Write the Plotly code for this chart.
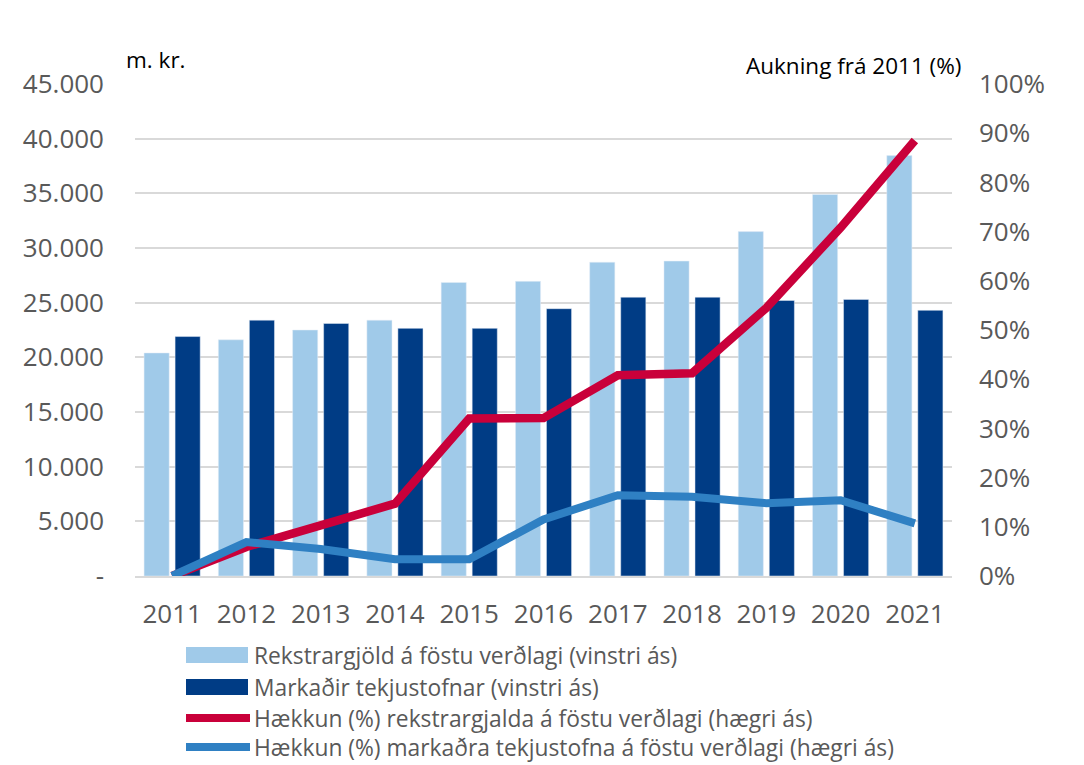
import plotly.graph_objects as go

years = ["2011", "2012", "2013", "2014", "2015", "2016", "2017", "2018", "2019", "2020", "2021"]
rekstrargjold = [20400, 21600, 22500, 23400, 26850, 26950, 28700, 28800, 31500, 34900, 38450]
tekjustofnar = [21900, 23400, 23100, 22650, 22650, 24450, 25500, 25500, 25200, 25300, 24300]
haekkun_rekstur = [0.0, 0.059, 0.103, 0.147, 0.320, 0.321, 0.408, 0.412, 0.545, 0.708, 0.885]
haekkun_tekjur = [0.0, 0.069, 0.055, 0.034, 0.034, 0.115, 0.164, 0.161, 0.148, 0.154, 0.107]

left_ticks = [0, 5000, 10000, 15000, 20000, 25000, 30000, 35000, 40000, 45000]
left_text = ["-", "5.000", "10.000", "15.000", "20.000", "25.000", "30.000", "35.000", "40.000", "45.000"]
right_ticks = [0, 0.1, 0.2, 0.3, 0.4, 0.5, 0.6, 0.7, 0.8, 0.9, 1.0]
right_text = ["0%", "10%", "20%", "30%", "40%", "50%", "60%", "70%", "80%", "90%", "100%"]

names = [
    "Rekstrargjöld á föstu verðlagi (vinstri ás)",
    "Markaðir tekjustofnar (vinstri ás)",
    "Hækkun (%) rekstrargjalda á föstu verðlagi (hægri ás)",
    "Hækkun (%) markaðra tekjustofna á föstu verðlagi (hægri ás)",
]
C_LIGHT = "#A0CAE9"
C_DARK = "#003C85"
C_RED = "#C9003A"
C_BLUE = "#2F80C3"

FONT = "Open Sans"
GRAY = "#595959"
TICK = 26

fig = go.Figure()
fig.add_trace(go.Bar(x=years, y=rekstrargjold, name=names[0], marker_color=C_LIGHT, yaxis="y"))
fig.add_trace(go.Bar(x=years, y=tekjustofnar, name=names[1], marker_color=C_DARK, yaxis="y"))
fig.add_trace(go.Scatter(x=years, y=haekkun_rekstur, name=names[2], mode="lines",
                         line=dict(color=C_RED, width=8.5), yaxis="y2"))
fig.add_trace(go.Scatter(x=years, y=haekkun_tekjur, name=names[3], mode="lines",
                         line=dict(color=C_BLUE, width=8), yaxis="y2"))

OFF = 8  # page offset of the figure
W, H = 1084 - OFF, 765 - OFF
PL, PR, PT, PB = 135, 952, 84, 576  # plot area in screenshot pixels
L = PL - OFF
R = W - (PR - OFF)
T = PT - OFF
B = H - (PB - OFF)

fig.update_layout(
    width=W, height=H,
    margin=dict(l=L, r=R, t=T, b=B),
    plot_bgcolor="white", paper_bgcolor="white",
    barmode="group", bargap=0.165, bargroupgap=0.19,
    showlegend=False,
    font=dict(family=FONT, color=GRAY, size=TICK),
    xaxis=dict(showgrid=False, showline=True, linecolor="#D9D9D9", linewidth=2,
               ticks="", tickfont=dict(size=TICK, color=GRAY, family=FONT), ticklabelstandoff=14),
    yaxis=dict(range=[0, 45000], tickvals=left_ticks, ticktext=left_text,
               showgrid=True, gridcolor="#D9D9D9", gridwidth=2, zeroline=False,
               tickfont=dict(size=TICK, color=GRAY, family=FONT), ticklabelstandoff=30),
    yaxis2=dict(range=[0, 1.0], tickvals=right_ticks, ticktext=right_text, overlaying="y",
                side="right", showgrid=False, zeroline=False,
                tickfont=dict(size=TICK, color=GRAY, family=FONT), ticklabelstandoff=26),
)

def px(xp):
    return (xp - PL) / (PR - PL)

def py(yp):
    return (PB - yp) / (PB - PT)

anns = [
    dict(text="m. kr.", x=px(124), y=py(60), xanchor="left", yanchor="middle",
         font=dict(size=22.5, color="black", family=FONT)),
    dict(text="Aukning frá 2011 (%)", x=px(963), y=py(65), xanchor="right", yanchor="middle",
         font=dict(size=22.5, color="black", family=FONT)),
]
rows = [655, 687, 718, 747]
shapes = []
for i, (nm, yy) in enumerate(zip(names, rows)):
    anns.append(dict(text=nm, x=px(252), y=py(yy), xanchor="left", yanchor="middle",
                     font=dict(size=22.8, color=GRAY, family=FONT)))
    if i < 2:
        shapes.append(dict(type="rect", xref="paper", yref="paper",
                           x0=px(186), x1=px(248), y0=py(yy - 8), y1=py(yy + 8),
                           fillcolor=[C_LIGHT, C_DARK][i], line=dict(width=0)))
    else:
        shapes.append(dict(type="line", xref="paper", yref="paper",
                           x0=px(186), x1=px(250), y0=py(yy), y1=py(yy),
                           line=dict(color=[C_RED, C_BLUE][i - 2], width=8)))
for a in anns:
    a.update(xref="paper", yref="paper", showarrow=False)
fig.update_layout(annotations=anns, shapes=shapes)

fig.write_html("out.html")
